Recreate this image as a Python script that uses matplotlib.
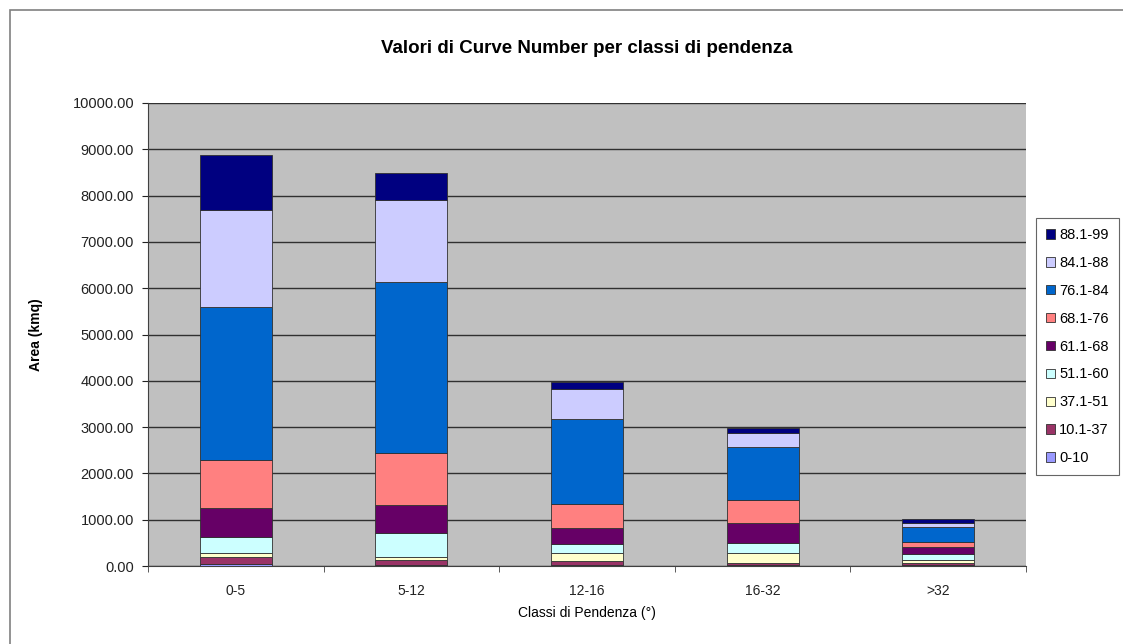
import matplotlib
matplotlib.use("Agg")
import matplotlib.pyplot as plt
import numpy as np

plt.rcParams['font.family'] = ['Liberation Sans', 'DejaVu Sans']

categories = ["0-5", "5-12", "12-16", "16-32", ">32"]
series_names = ["0-10", "10.1-37", "37.1-51", "51.1-60", "61.1-68",
                "68.1-76", "76.1-84", "84.1-88", "88.1-99"]
s_0_10    = [40, 20, 30, 25, 20]
s_10_37   = [150, 100, 70, 45, 50]
s_37_51   = [80, 70, 170, 210, 60]
s_51_60   = [356, 523, 205, 217, 130]
s_61_68   = [627, 605, 346, 432, 150]
s_68_76   = [1036, 1123, 518, 496, 110]
s_76_84   = [3305, 3693, 1836, 1145, 330]
s_84_88   = [2095, 1771, 648, 303, 70]
s_88_99   = [1188, 583, 151, 108, 90]
series_values = [s_0_10, s_10_37, s_37_51, s_51_60, s_61_68,
                 s_68_76, s_76_84, s_84_88, s_88_99]
colors = ["#9999FF", "#993366", "#FFFFCC", "#CCFFFF", "#660066",
          "#FF8080", "#0066CC", "#CCCCFF", "#000080"]

W, H = 1123, 644
fig = plt.figure(figsize=(W/100, H/100), dpi=100)
fig.patch.set_facecolor("white")

# outer chart border (extends past right/bottom edges as in the reference)
border = plt.Rectangle((10/W, -10/H), (W+10)/W, (H)/H, transform=fig.transFigure,
                       fill=False, edgecolor="#808080", lw=1.2)
fig.add_artist(border)

ax = fig.add_axes([148/W, 1-566/H, (1026-148)/W, (566-103)/H])
ax.set_facecolor("#C0C0C0")

x = np.arange(len(categories))
bottom = np.zeros(len(categories))
handles = []
for name, vals, c in zip(series_names, series_values, colors):
    b = ax.bar(x, vals, 0.41, bottom=bottom, color=c, edgecolor="#303030",
               linewidth=0.6, label=name, zorder=3)
    handles.append(b)
    bottom += np.array(vals)

ax.set_xlim(-0.5, len(categories) - 0.5)
ax.set_ylim(0, 10000)
ax.set_yticks(np.arange(0, 10001, 1000))
ax.set_yticklabels([f"{v:.2f}" for v in np.arange(0, 10001, 1000)])
ax.yaxis.grid(True, color="#303030", lw=1.0, zorder=1)
ax.set_axisbelow(True)
ax.set_xticks(x)
ax.set_xticklabels(categories)
ax.set_xticks(np.arange(-0.5, len(categories)), minor=True)
ax.tick_params(axis='x', which='major', length=0, labelsize=10, colors="#222222", pad=13)
ax.tick_params(axis='x', which='minor', length=4, color="#404040")
ax.tick_params(axis='y', length=4, labelsize=10.5, colors="#222222", pad=6)
for side in ["top", "right"]:
    ax.spines[side].set_visible(False)
ax.spines["left"].set_color("#404040")
ax.spines["bottom"].set_color("#404040")

ax.set_title("Valori di Curve Number per classi di pendenza", fontsize=13.5,
             fontweight="bold", pad=36)
ax.set_xlabel("Classi di Pendenza (°)", fontsize=10, labelpad=6)
ax.set_ylabel("Area (kmq)", fontsize=10, fontweight="bold", labelpad=21)

leg = fig.legend(handles[::-1], series_names[::-1], loc="upper left",
                 bbox_to_anchor=(1036/W, 1-218/H), frameon=True, fontsize=10.5,
                 handlelength=0.6, handleheight=0.6, handletextpad=0.3,
                 labelspacing=0.95, borderpad=0.7, borderaxespad=0, fancybox=False)
leg.get_frame().set_edgecolor("#404040")
leg.get_frame().set_linewidth(0.8)

fig.savefig("out.png", dpi=100)
